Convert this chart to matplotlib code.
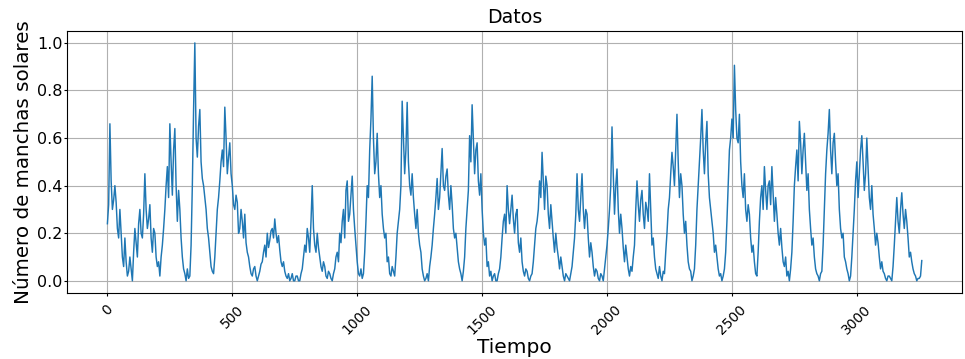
import numpy as np
import matplotlib
matplotlib.use("Agg")
import matplotlib.pyplot as plt

# Normalised monthly sunspot numbers, one value every 5 time steps
step = 5
manchas = [
    0.24, 0.32, 0.66, 0.42, 0.30, 0.34, 0.40, 0.33, 0.22, 0.18,   # 0
    0.30, 0.20, 0.10, 0.06, 0.18, 0.08, 0.02, 0.04, 0.10, 0.05,   # 50
    0.00, 0.12, 0.22, 0.16, 0.10, 0.24, 0.30, 0.20, 0.18, 0.28,   # 100
    0.45, 0.30, 0.22, 0.26, 0.32, 0.18, 0.12, 0.22, 0.20, 0.10,   # 150
    0.06, 0.08, 0.02, 0.10, 0.15, 0.22, 0.30, 0.40, 0.48, 0.35,   # 200
    0.66, 0.50, 0.36, 0.55, 0.64, 0.40, 0.25, 0.38, 0.30, 0.18,   # 250
    0.10, 0.05, 0.03, 0.00, 0.05, 0.01, 0.02, 0.15, 0.40, 0.72,   # 300
    1.00, 0.60, 0.52, 0.65, 0.72, 0.50, 0.43, 0.40, 0.35, 0.30,   # 350
    0.22, 0.18, 0.12, 0.06, 0.04, 0.03, 0.10, 0.20, 0.30, 0.35,   # 400
    0.42, 0.50, 0.55, 0.48, 0.73, 0.60, 0.45, 0.52, 0.58, 0.45,   # 450
    0.40, 0.32, 0.30, 0.36, 0.33, 0.20, 0.22, 0.30, 0.25, 0.18,   # 500
    0.28, 0.16, 0.12, 0.10, 0.06, 0.03, 0.02, 0.05, 0.06, 0.02,   # 550
    0.00, 0.02, 0.04, 0.07, 0.08, 0.12, 0.15, 0.10, 0.20, 0.14,   # 600
    0.17, 0.21, 0.22, 0.18, 0.26, 0.20, 0.16, 0.19, 0.13, 0.08,   # 650
    0.06, 0.08, 0.04, 0.02, 0.01, 0.03, 0.00, 0.01, 0.03, 0.00,   # 700
    0.00, 0.02, 0.02, 0.00, 0.00, 0.03, 0.05, 0.10, 0.15, 0.12,   # 750
    0.22, 0.18, 0.12, 0.25, 0.40, 0.22, 0.15, 0.12, 0.20, 0.14,   # 800
    0.10, 0.06, 0.04, 0.08, 0.06, 0.02, 0.01, 0.04, 0.03, 0.01,   # 850
    0.00, 0.03, 0.05, 0.10, 0.12, 0.08, 0.20, 0.16, 0.25, 0.30,   # 900
    0.18, 0.38, 0.42, 0.25, 0.28, 0.36, 0.44, 0.30, 0.22, 0.15,   # 950
    0.08, 0.03, 0.02, 0.05, 0.01, 0.03, 0.12, 0.25, 0.40, 0.35,   # 1000
    0.55, 0.68, 0.86, 0.60, 0.45, 0.50, 0.62, 0.45, 0.35, 0.40,   # 1050
    0.28, 0.22, 0.18, 0.20, 0.08, 0.10, 0.03, 0.02, 0.06, 0.04,   # 1100
    0.02, 0.10, 0.20, 0.25, 0.30, 0.40, 0.755, 0.60, 0.45, 0.55,  # 1150
    0.75, 0.50, 0.40, 0.36, 0.45, 0.35, 0.28, 0.22, 0.30, 0.20,   # 1200
    0.15, 0.12, 0.05, 0.02, 0.00, 0.01, 0.03, 0.00, 0.06, 0.10,   # 1250
    0.15, 0.22, 0.28, 0.35, 0.43, 0.30, 0.35, 0.45, 0.556, 0.40,  # 1300
    0.38, 0.44, 0.47, 0.36, 0.30, 0.40, 0.32, 0.22, 0.18, 0.20,   # 1350
    0.14, 0.08, 0.05, 0.03, 0.00, 0.04, 0.10, 0.22, 0.30, 0.38,   # 1400
    0.61, 0.50, 0.74, 0.60, 0.45, 0.55, 0.58, 0.42, 0.36, 0.45,   # 1450
    0.30, 0.20, 0.15, 0.18, 0.06, 0.08, 0.02, 0.04, 0.00, 0.02,   # 1500
    0.03, 0.00, 0.00, 0.03, 0.05, 0.10, 0.18, 0.25, 0.28, 0.20,   # 1550
    0.40, 0.30, 0.24, 0.30, 0.36, 0.26, 0.20, 0.28, 0.30, 0.16,   # 1600
    0.12, 0.18, 0.08, 0.04, 0.02, 0.05, 0.04, 0.01, 0.00, 0.02,   # 1650
    0.03, 0.08, 0.15, 0.22, 0.25, 0.30, 0.42, 0.35, 0.54, 0.42,   # 1700
    0.30, 0.44, 0.40, 0.28, 0.22, 0.32, 0.25, 0.18, 0.12, 0.20,   # 1750
    0.14, 0.10, 0.05, 0.10, 0.06, 0.02, 0.00, 0.03, 0.02, 0.01,   # 1800
    0.00, 0.03, 0.06, 0.12, 0.18, 0.28, 0.45, 0.30, 0.25, 0.35,   # 1850
    0.45, 0.30, 0.22, 0.30, 0.28, 0.18, 0.10, 0.16, 0.12, 0.06,   # 1900
    0.02, 0.05, 0.04, 0.01, 0.00, 0.03, 0.02, 0.00, 0.05, 0.10,   # 1950
    0.15, 0.22, 0.30, 0.40, 0.647, 0.45, 0.28, 0.40, 0.47, 0.30,  # 2000
    0.20, 0.28, 0.22, 0.14, 0.08, 0.15, 0.10, 0.05, 0.02, 0.06,   # 2050
    0.04, 0.10, 0.15, 0.30, 0.42, 0.32, 0.25, 0.34, 0.38, 0.28,   # 2100
    0.22, 0.33, 0.30, 0.25, 0.45, 0.30, 0.15, 0.18, 0.10, 0.05,   # 2150
    0.03, 0.01, 0.06, 0.02, 0.00, 0.04, 0.03, 0.12, 0.20, 0.30,   # 2200
    0.35, 0.45, 0.54, 0.48, 0.40, 0.55, 0.70, 0.50, 0.35, 0.45,   # 2250
    0.40, 0.28, 0.20, 0.25, 0.15, 0.08, 0.05, 0.04, 0.00, 0.02,   # 2300
    0.05, 0.15, 0.30, 0.40, 0.50, 0.60, 0.72, 0.55, 0.45, 0.58,   # 2350
    0.67, 0.45, 0.35, 0.30, 0.25, 0.20, 0.12, 0.15, 0.10, 0.05,   # 2400
    0.02, 0.03, 0.00, 0.02, 0.05, 0.12, 0.25, 0.40, 0.55, 0.60,   # 2450
    0.68, 0.60, 0.906, 0.72, 0.60, 0.58, 0.70, 0.50, 0.40, 0.35,  # 2500
    0.45, 0.30, 0.25, 0.32, 0.28, 0.18, 0.12, 0.15, 0.08, 0.03,   # 2550
    0.02, 0.12, 0.25, 0.35, 0.40, 0.30, 0.48, 0.38, 0.30, 0.40,   # 2600
    0.42, 0.32, 0.48, 0.36, 0.25, 0.35, 0.28, 0.20, 0.15, 0.22,   # 2650
    0.14, 0.08, 0.06, 0.10, 0.02, 0.04, 0.00, 0.05, 0.12, 0.25,   # 2700
    0.40, 0.48, 0.55, 0.42, 0.67, 0.58, 0.45, 0.55, 0.62, 0.50,   # 2750
    0.38, 0.45, 0.30, 0.22, 0.15, 0.18, 0.10, 0.05, 0.03, 0.02,   # 2800
    0.00, 0.03, 0.04, 0.15, 0.30, 0.45, 0.55, 0.62, 0.72, 0.55,   # 2850
    0.45, 0.58, 0.62, 0.50, 0.40, 0.45, 0.30, 0.22, 0.18, 0.20,   # 2900
    0.10, 0.08, 0.05, 0.03, 0.00, 0.02, 0.10, 0.20, 0.30, 0.42,   # 2950
    0.50, 0.35, 0.45, 0.55, 0.61, 0.50, 0.38, 0.45, 0.60, 0.48,   # 3000
    0.35, 0.30, 0.40, 0.28, 0.22, 0.15, 0.20, 0.16, 0.10, 0.05,   # 3050
    0.08, 0.04, 0.03, 0.01, 0.00, 0.02, 0.02, 0.01, 0.00, 0.06,   # 3100
    0.15, 0.25, 0.35, 0.25, 0.20, 0.30, 0.37, 0.28, 0.22, 0.30,   # 3150
    0.25, 0.18, 0.10, 0.12, 0.08, 0.05, 0.03, 0.02, 0.00, 0.01,   # 3200
    0.01, 0.02, 0.085,                                            # 3250
]
tiempo = np.arange(len(manchas)) * step

titulo = "Datos"
etiqueta_x = "Tiempo"
etiqueta_y = "Número de manchas solares"

fig = plt.figure(figsize=(9.65, 3.59), dpi=100)
ax = fig.add_axes([0.0691, 0.1847, 0.9283, 0.7289])
ax.plot(tiempo, manchas, color="#1f77b4", linewidth=1.05)
ax.set_title(titulo, fontsize=13.7)
ax.set_xlabel(etiqueta_x, fontsize=14.5)
ax.set_ylabel(etiqueta_y, fontsize=14.3)
ax.xaxis.set_label_coords(0.5, -0.173)
ax.yaxis.set_label_coords(-0.0374, 0.5)
ax.tick_params(axis="y", labelsize=11.5, length=2.0, pad=0.8)
ax.tick_params(axis="x", labelsize=10, length=2.5, pad=4.5)
plt.setp(ax.get_xticklabels(), rotation=45)
ax.grid(True)
fig.savefig("out.png", dpi=100)
